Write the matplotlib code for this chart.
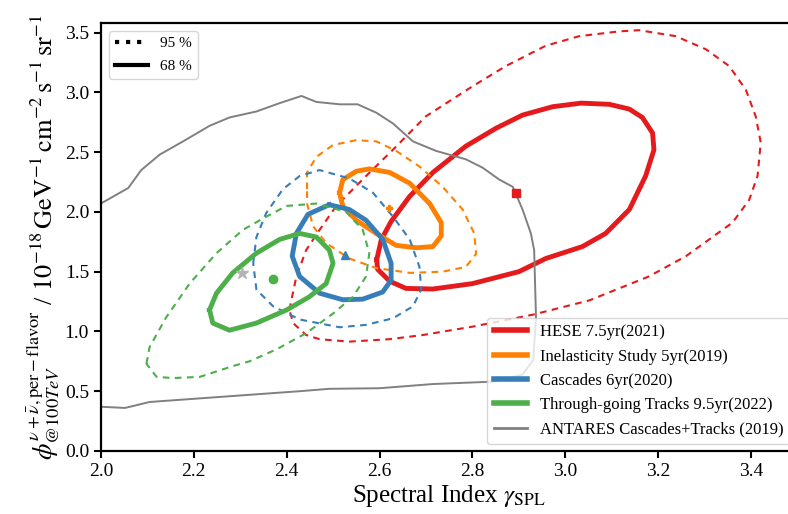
import matplotlib
matplotlib.use("Agg")
import matplotlib.pyplot as plt
from matplotlib.lines import Line2D

# --- contour data (spectral index, flux normalisation) ---
hese68 = [(2.594, 1.60), (2.604, 1.77), (2.625, 1.92), (2.665, 2.13), (2.715, 2.33),
          (2.786, 2.55), (2.851, 2.70), (2.908, 2.81), (2.973, 2.88), (3.034, 2.91),
          (3.095, 2.90), (3.138, 2.86), (3.166, 2.79), (3.188, 2.66), (3.191, 2.52),
          (3.173, 2.30), (3.138, 2.02), (3.087, 1.82), (3.037, 1.71), (2.958, 1.61),
          (2.900, 1.50), (2.800, 1.40), (2.715, 1.355), (2.657, 1.36), (2.622, 1.42),
          (2.596, 1.52)]
hese95 = [(2.406, 1.18), (2.414, 1.33), (2.421, 1.46), (2.442, 1.68), (2.471, 1.85),
          (2.507, 2.05), (2.571, 2.30), (2.629, 2.52), (2.700, 2.80), (2.800, 3.05),
          (2.872, 3.22), (2.958, 3.39), (3.030, 3.47), (3.116, 3.51), (3.159, 3.52),
          (3.238, 3.47), (3.303, 3.36), (3.353, 3.22), (3.389, 3.02), (3.410, 2.80),
          (3.421, 2.58), (3.414, 2.30), (3.396, 2.10), (3.360, 1.91), (3.310, 1.77),
          (3.260, 1.63), (3.180, 1.46), (3.052, 1.26), (2.930, 1.14), (2.800, 1.04),
          (2.693, 0.97), (2.621, 0.935), (2.535, 0.915), (2.471, 0.935), (2.442, 0.97),
          (2.414, 1.07)]
inel68 = [(2.514, 2.16), (2.521, 2.27), (2.550, 2.34), (2.578, 2.36), (2.622, 2.33),
          (2.665, 2.24), (2.708, 2.07), (2.733, 1.91), (2.733, 1.80), (2.715, 1.71),
          (2.679, 1.70), (2.636, 1.72), (2.593, 1.82), (2.550, 1.93), (2.521, 2.05)]
inel95 = [(2.444, 2.19), (2.444, 2.33), (2.464, 2.46), (2.500, 2.56), (2.550, 2.60),
          (2.593, 2.59), (2.636, 2.51), (2.686, 2.38), (2.736, 2.21), (2.779, 2.02),
          (2.804, 1.82), (2.808, 1.65), (2.786, 1.54), (2.736, 1.50), (2.665, 1.49),
          (2.593, 1.53), (2.535, 1.61), (2.485, 1.74), (2.457, 1.88), (2.444, 2.07)]
casc68 = [(2.492, 2.06), (2.535, 2.02), (2.571, 1.93), (2.607, 1.77), (2.625, 1.57),
          (2.625, 1.43), (2.607, 1.33), (2.564, 1.27), (2.521, 1.265), (2.471, 1.32),
          (2.428, 1.46), (2.412, 1.63), (2.421, 1.82), (2.446, 1.98)]
casc95 = [(2.328, 1.57), (2.335, 1.79), (2.356, 1.99), (2.392, 2.19), (2.428, 2.30),
          (2.471, 2.35), (2.535, 2.28), (2.586, 2.16), (2.629, 1.96), (2.665, 1.77),
          (2.686, 1.54), (2.690, 1.35), (2.672, 1.21), (2.629, 1.11), (2.571, 1.055),
          (2.514, 1.035), (2.428, 1.10), (2.371, 1.21), (2.335, 1.35)]
track68 = [(2.234, 1.18), (2.249, 1.32), (2.284, 1.49), (2.335, 1.655), (2.385, 1.77),
           (2.428, 1.82), (2.464, 1.79), (2.492, 1.68), (2.500, 1.57), (2.485, 1.40),
           (2.449, 1.29), (2.400, 1.18), (2.335, 1.07), (2.277, 1.01), (2.241, 1.07)]
track95 = [(2.098, 0.73), (2.105, 0.87), (2.141, 1.12), (2.191, 1.40), (2.249, 1.655),
           (2.306, 1.85), (2.356, 1.96), (2.400, 2.05), (2.464, 2.07), (2.528, 2.00),
           (2.564, 1.85), (2.578, 1.655), (2.571, 1.46), (2.543, 1.29), (2.500, 1.15),
           (2.442, 0.985), (2.378, 0.85), (2.320, 0.75), (2.284, 0.71), (2.213, 0.62),
           (2.155, 0.61), (2.120, 0.62)]
antares = [(2.000, 2.07), (2.059, 2.20), (2.087, 2.35), (2.127, 2.48), (2.177, 2.59),
           (2.234, 2.72), (2.277, 2.79), (2.335, 2.84), (2.385, 2.91), (2.432, 2.97),
           (2.464, 2.92), (2.514, 2.90), (2.553, 2.90), (2.593, 2.83), (2.629, 2.74),
           (2.672, 2.59), (2.722, 2.51), (2.786, 2.44), (2.822, 2.37), (2.858, 2.27),
           (2.887, 2.21), (2.908, 2.02), (2.926, 1.82), (2.933, 1.68), (2.937, 1.12),
           (2.931, 0.76), (2.908, 0.64), (2.858, 0.59), (2.844, 0.58), (2.715, 0.56),
           (2.600, 0.525), (2.492, 0.52), (2.428, 0.50), (2.356, 0.48), (2.213, 0.44),
           (2.105, 0.41), (2.052, 0.36), (2.000, 0.37)]

# best fit points
best_x = [2.894, 2.620, 2.525, 2.371, 2.303]
best_y = [2.16, 2.03, 1.64, 1.44, 1.49]

labels = ['HESE 7.5yr(2021)', 'Inelasticity Study 5yr(2019)', 'Cascades 6yr(2020)',
          'Through-going Tracks 9.5yr(2022)', 'ANTARES Cascades+Tracks (2019)']
colors = ['#e41a1c', '#ff7f00', '#377eb8', '#4daf4a', 'grey']
markers = ['s', 'P', '^', 'o', '*']
marker_sizes = [6, 5, 6, 6, 9]

plt.rcParams['font.family'] = ['Liberation Serif', 'DejaVu Serif']
plt.rcParams['mathtext.fontset'] = 'stix'

fig = plt.figure(figsize=(7.88, 5.14), dpi=100)
# axes extends a little past the right edge of the canvas, as in the original
ax = fig.add_axes([0.128, 0.1226, 0.884, 0.8326])


def closed(pts):
    xs = [p[0] for p in pts] + [pts[0][0]]
    ys = [p[1] for p in pts] + [pts[0][1]]
    return xs, ys


pairs = [(hese68, hese95), (inel68, inel95), (casc68, casc95), (track68, track95)]
for (c68, c95), col in zip(pairs, colors):
    xs, ys = closed(c95)
    ax.plot(xs, ys, color=col, lw=1.5, ls=(0, (3.2, 2.6)), dash_joinstyle='round')
    xs, ys = closed(c68)
    ax.plot(xs, ys, color=col, lw=3.5, solid_joinstyle='round')

ax.plot([p[0] for p in antares], [p[1] for p in antares], color='grey', lw=1.4,
        solid_joinstyle='round')

for bx, by, col, m, ms in zip(best_x, best_y, colors, markers, marker_sizes):
    ax.plot(bx, by, marker=m, color=col if col != 'grey' else '#b5b5b5',
            ms=ms, ls='none')

ax.set_xlim(2.0, 3.5)
ax.set_ylim(0.0, 3.58)
ax.set_xticks([2.0, 2.2, 2.4, 2.6, 2.8, 3.0, 3.2, 3.4])
ax.set_yticks([0.0, 0.5, 1.0, 1.5, 2.0, 2.5, 3.0, 3.5])
ax.tick_params(labelsize=14, direction='out', length=5, width=1.5)
for s in ['left', 'bottom', 'top']:
    ax.spines[s].set_linewidth(1.6)
ax.spines['right'].set_visible(False)

ax.set_xlabel(r'Spectral Index $\gamma_{\mathrm{SPL}}$', fontsize=18, labelpad=2)
ax.set_ylabel(r'$\phi^{\nu+\bar{\nu},\mathrm{per-flavor}}_{@100TeV}$ / '
              r'$10^{-18}\,\mathrm{GeV^{-1}\,cm^{-2}\,s^{-1}\,sr^{-1}}$',
              fontsize=19, labelpad=2)

# legends
h1 = [Line2D([], [], color='black', lw=3, ls=':'),
      Line2D([], [], color='black', lw=3)]
leg1 = ax.legend(h1, ['95 %', '68 %'], loc='upper left', fontsize=11,
                 handlelength=2.2, framealpha=0.8, labelspacing=0.6)
ax.add_artist(leg1)
h2 = [Line2D([], [], color=c, lw=4 if c != 'grey' else 2) for c in colors]
ax.legend(h2, labels, loc='lower right', fontsize=12, handlelength=2.0,
          framealpha=0.8, borderaxespad=0.4)

fig.savefig('out.png', dpi=100)
